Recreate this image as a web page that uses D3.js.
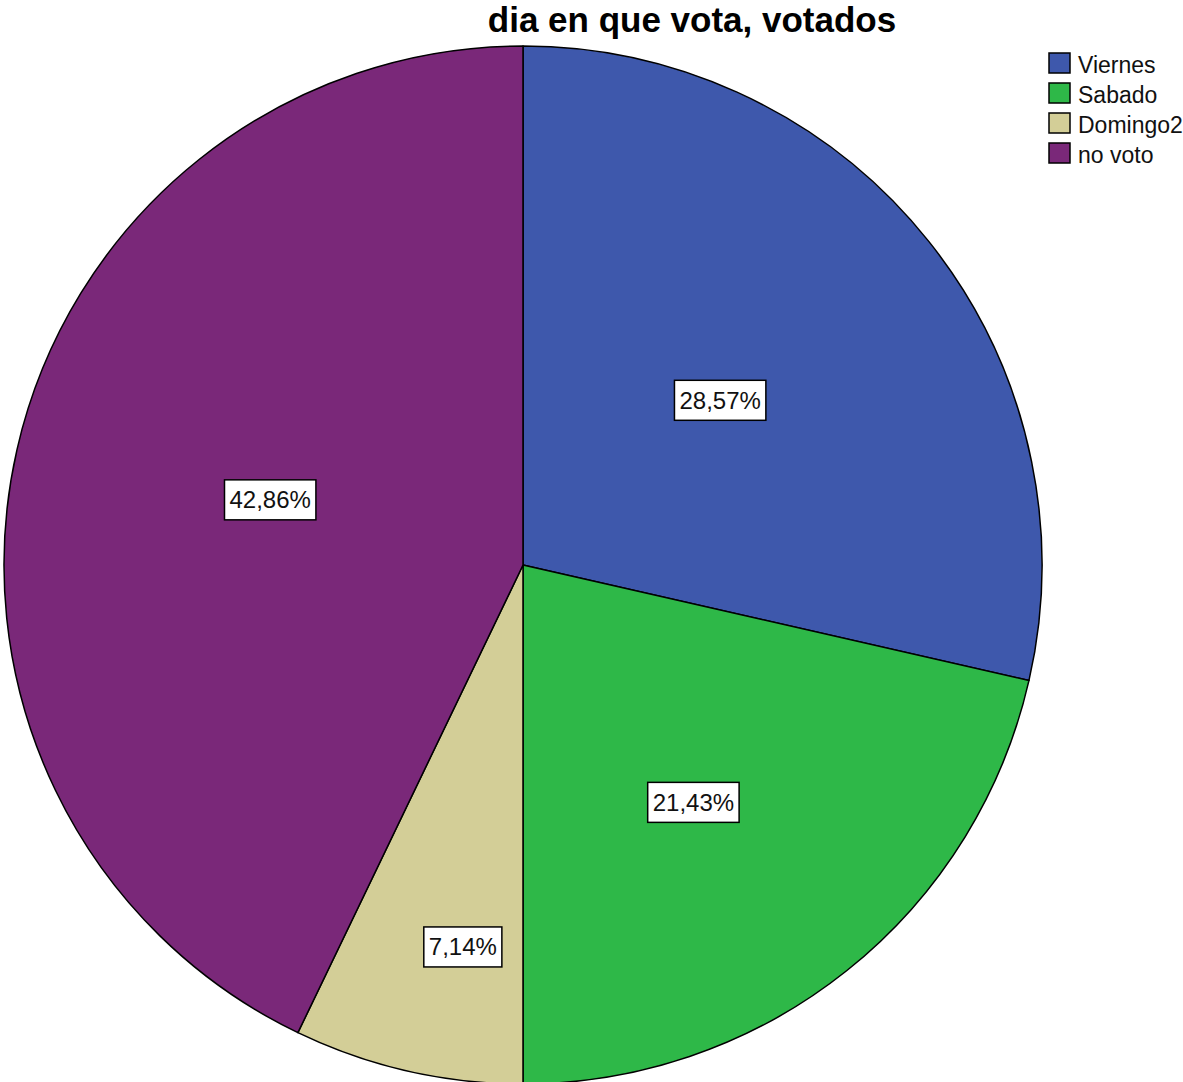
<!DOCTYPE html>
<html>
<head>
<meta charset="utf-8">
<script src="https://cdn.jsdelivr.net/npm/d3@7"></script>
<style>
  body { margin: 0; background: #fff; }
  svg { display: block; font-family: "Liberation Sans", Arial, sans-serif; }
</style>
</head>
<body>
<script>
var title = "dia en que vota, votados";
var categories = ["Viernes", "Sabado", "Domingo2", "no voto"];
var percents = [28.57, 21.43, 7.14, 42.86];
var labels = ["28,57%", "21,43%", "7,14%", "42,86%"];
var colors = ["#3e58ac", "#2eb848", "#d3ce97", "#7a2879"];
// label placement: share of the radius, and angle shift from the slice middle (degrees)
var labelRadius = [0.495, 0.563, 0.745, 0.503];
var labelShift = [-1.3, 2.9, -3.9, 1.6];

var width = 1183, height = 1082;
var cx = 523, cy = 565, radius = 519;

var svg = d3.select("body").append("svg")
    .attr("width", width)
    .attr("height", height);

svg.append("text")
    .attr("x", 692)
    .attr("y", 32)
    .attr("text-anchor", "middle")
    .style("font-size", "35px")
    .style("font-weight", "bold")
    .text(title);

var data = categories.map(function(c, i) {
    return { name: c, value: percents[i], label: labels[i], color: colors[i],
             k: labelRadius[i], shift: labelShift[i] };
});

var pie = d3.pie()
    .sort(null)
    .value(function(d) { return d.value; });

var arc = d3.arc()
    .innerRadius(0)
    .outerRadius(radius);

var g = svg.append("g")
    .attr("transform", "translate(" + cx + "," + cy + ")");

var slices = pie(data);

g.selectAll("path")
    .data(slices)
    .enter()
    .append("path")
    .attr("d", arc)
    .attr("fill", function(d) { return d.data.color; })
    .attr("stroke", "#000")
    .attr("stroke-width", 1.5)
    .attr("stroke-linejoin", "round");

var lab = g.selectAll(".lab")
    .data(slices)
    .enter()
    .append("g")
    .attr("class", "lab")
    .attr("transform", function(d) {
        var r = radius * d.data.k;
        var a = (d.startAngle + d.endAngle) / 2 + d.data.shift * Math.PI / 180;
        var p = d3.arc().innerRadius(r).outerRadius(r).centroid({ startAngle: a, endAngle: a });
        return "translate(" + p[0] + "," + p[1] + ")";
    });

lab.append("text")
    .attr("text-anchor", "middle")
    .attr("dy", "0.35em")
    .style("font-size", "24px")
    .attr("fill", "#111")
    .text(function(d) { return d.data.label; });

lab.each(function() {
    var sel = d3.select(this);
    var bb = sel.select("text").node().getBBox();
    var padX = 5;
    sel.insert("rect", "text")
        .attr("x", bb.x - padX)
        .attr("y", -20)
        .attr("width", bb.width + padX * 2)
        .attr("height", 40)
        .attr("fill", "#fff")
        .attr("stroke", "#000")
        .attr("stroke-width", 1.5);
});

var legend = svg.append("g")
    .attr("transform", "translate(1049,53)");

var rows = legend.selectAll("g")
    .data(data)
    .enter()
    .append("g")
    .attr("transform", function(d, i) { return "translate(0," + (i * 30) + ")"; });

rows.append("rect")
    .attr("width", 21)
    .attr("height", 20)
    .attr("fill", function(d) { return d.color; })
    .attr("stroke", "#000")
    .attr("stroke-width", 1.5);

rows.append("text")
    .attr("x", 29)
    .attr("y", 12)
    .attr("dy", "0.35em")
    .style("font-size", "23px")
    .attr("fill", "#111")
    .text(function(d) { return d.name; });
</script>
</body>
</html>
